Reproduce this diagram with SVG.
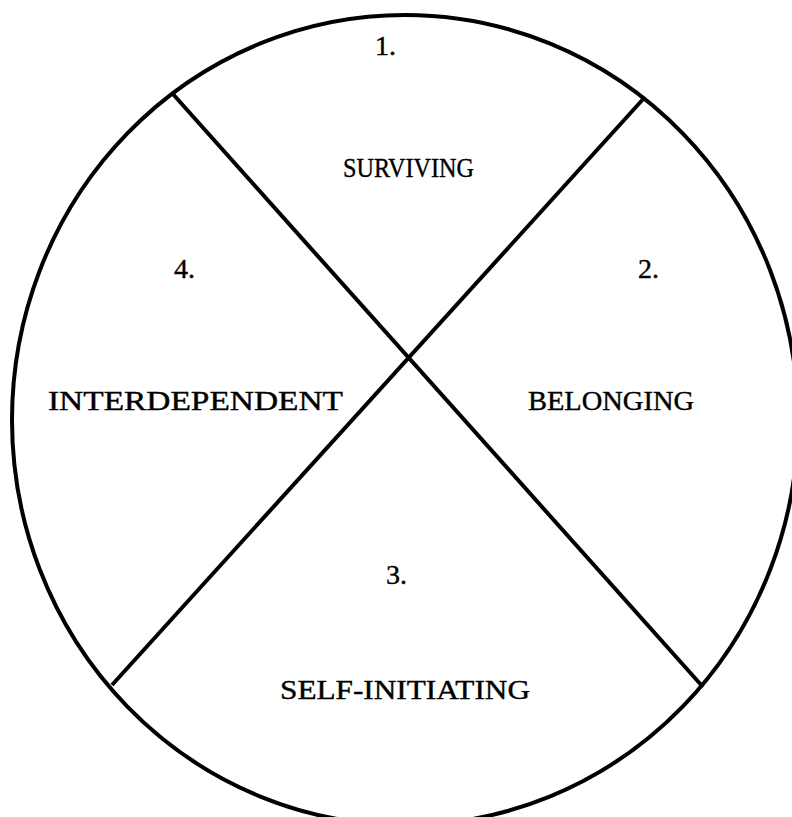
<svg xmlns="http://www.w3.org/2000/svg" width="792" height="817" viewBox="0 0 792 817">
<style>
.t{font-family:"Liberation Serif","Times New Roman",serif;font-size:28px;fill:#000;stroke:#000;stroke-width:0.4}
.s{fill:none;stroke:#000;stroke-width:4}
</style>
<rect width="792" height="817" fill="#fff"/>
<g id="connectors">
<ellipse class="s" cx="405" cy="420" rx="393" ry="405"/>
<line class="s" x1="172" y1="93" x2="703" y2="687"/>
<line class="s" x1="645" y1="97" x2="112" y2="685"/>
</g>
<g id="n1"><text class="t" x="375" y="55">1.</text><text class="t" x="343" y="177" textLength="131" lengthAdjust="spacingAndGlyphs">SURVIVING</text></g>
<g id="n2"><text class="t" x="638" y="278">2.</text><text class="t" x="528" y="410" textLength="166" lengthAdjust="spacingAndGlyphs">BELONGING</text></g>
<g id="n3"><text class="t" x="386" y="584">3.</text><text class="t" x="280" y="699" textLength="250" lengthAdjust="spacingAndGlyphs">SELF-INITIATING</text></g>
<g id="n4"><text class="t" x="174" y="278">4.</text><text class="t" x="48" y="410" textLength="295" lengthAdjust="spacingAndGlyphs">INTERDEPENDENT</text></g>
</svg>
